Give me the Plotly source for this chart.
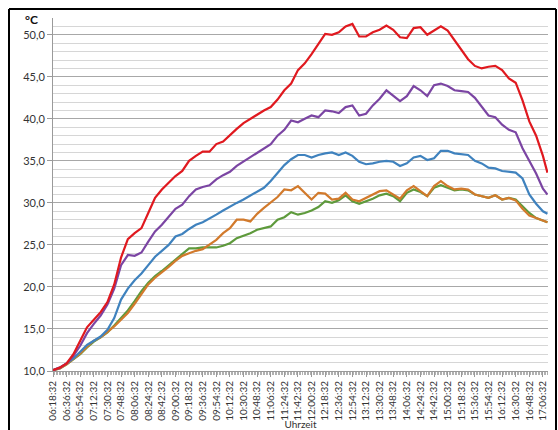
import plotly.graph_objects as go

times = ["06:18:32", "06:27:32", "06:36:32", "06:45:32", "06:54:32", "07:03:32", "07:12:32", "07:21:32",
         "07:30:32", "07:39:32", "07:48:32", "07:57:32", "08:06:32", "08:15:32", "08:24:32", "08:33:32",
         "08:42:32", "08:51:32", "09:00:32", "09:09:32", "09:18:32", "09:27:32", "09:36:32", "09:45:32",
         "09:54:32", "10:03:32", "10:12:32", "10:21:32", "10:30:32", "10:39:32", "10:48:32", "10:57:32",
         "11:06:32", "11:15:32", "11:24:32", "11:33:32", "11:42:32", "11:51:32", "12:00:32", "12:09:32",
         "12:18:32", "12:27:32", "12:36:32", "12:45:32", "12:54:32", "13:03:32", "13:12:32", "13:21:32",
         "13:30:32", "13:39:32", "13:48:32", "13:57:32", "14:06:32", "14:15:32", "14:24:32", "14:33:32",
         "14:42:32", "14:51:32", "15:00:32", "15:09:32", "15:18:32", "15:27:32", "15:36:32", "15:45:32",
         "15:54:32", "16:03:32", "16:12:32", "16:21:32", "16:30:32", "16:39:32", "16:48:32", "16:57:32",
         "17:06:32", "17:12:32"]

red = [10.1, 10.4, 10.9, 12.0, 13.6, 15.2, 16.1, 17.0, 18.2, 20.3, 23.5, 25.7, 26.4, 27.0, 28.8, 30.6,
       31.6, 32.4, 33.2, 33.8, 35.0, 35.6, 36.1, 36.1, 37.0, 37.3, 38.1, 38.8, 39.5, 40.0, 40.6, 41.0,
       41.4, 42.3, 43.4, 44.2, 45.8, 46.6, 47.7, 48.9, 50.1, 50.0, 50.3, 51.0, 51.3, 49.8, 49.8, 50.3,
       50.6, 51.1, 50.6, 49.7, 49.6, 50.8, 50.9, 50.0, 50.5, 51.0, 50.5, 49.4, 48.2, 47.1, 46.3, 46.0,
       46.2, 46.3, 45.8, 44.8, 44.3, 42.2, 39.7, 38.0, 35.6, 33.6]

purple = [10.1, 10.4, 10.9, 11.8, 13.0, 14.5, 15.6, 16.6, 17.9, 19.8, 22.6, 23.8, 23.7, 24.1, 25.4, 26.6,
          27.4, 28.4, 29.3, 29.8, 30.8, 31.6, 31.9, 32.1, 32.8, 33.3, 33.7, 34.4, 34.9, 35.4, 36.0, 36.5,
          37.0, 38.0, 38.7, 39.8, 39.6, 40.0, 40.4, 40.2, 41.0, 40.9, 40.7, 41.4, 41.6, 40.4, 40.6, 41.6,
          42.4, 43.4, 42.8, 42.1, 42.7, 43.9, 43.4, 42.7, 44.0, 44.2, 43.9, 43.4, 43.3, 43.2, 42.5, 41.5,
          40.4, 40.2, 39.3, 38.7, 38.4, 36.5, 35.0, 33.5, 31.7, 31.0]

blue = [10.1, 10.4, 10.9, 11.5, 12.3, 13.1, 13.6, 14.1, 14.9, 16.3, 18.5, 19.8, 20.8, 21.6, 22.6, 23.6,
        24.3, 25.0, 26.0, 26.3, 26.9, 27.4, 27.7, 28.1, 28.6, 29.1, 29.6, 30.0, 30.4, 30.9, 31.3, 31.8,
        32.6, 33.5, 34.5, 35.2, 35.7, 35.7, 35.4, 35.7, 35.9, 36.0, 35.7, 36.0, 35.6, 34.9, 34.6, 34.7,
        34.9, 35.0, 34.9, 34.4, 34.7, 35.4, 35.6, 35.1, 35.3, 36.2, 36.2, 35.9, 35.8, 35.7, 35.0, 34.7,
        34.2, 34.1, 33.8, 33.7, 33.6, 32.9, 31.0, 29.9, 29.0, 28.7]

green = [10.1, 10.3, 10.8, 11.4, 12.0, 12.8, 13.5, 14.0, 14.6, 15.4, 16.3, 17.2, 18.3, 19.5, 20.5, 21.3,
         21.9, 22.6, 23.3, 24.0, 24.6, 24.6, 24.7, 24.7, 24.7, 24.9, 25.2, 25.8, 26.1, 26.4, 26.8, 27.0,
         27.2, 28.0, 28.3, 28.9, 28.6, 28.8, 29.1, 29.5, 30.2, 30.0, 30.3, 30.9, 30.2, 29.9, 30.2, 30.5,
         30.9, 31.1, 30.8, 30.2, 31.2, 31.6, 31.3, 30.8, 31.8, 32.1, 31.8, 31.5, 31.6, 31.5, 31.0, 30.8,
         30.6, 30.9, 30.4, 30.6, 30.4, 29.6, 28.8, 28.2, 27.9, 27.7]

orange = [10.1, 10.3, 10.8, 11.4, 12.1, 12.9, 13.6, 14.0, 14.6, 15.3, 16.1, 16.9, 18.0, 19.2, 20.3, 21.1,
          21.7, 22.4, 23.1, 23.7, 24.0, 24.3, 24.5, 25.1, 25.6, 26.4, 27.0, 28.0, 28.0, 27.8, 28.7, 29.4,
          30.1, 30.7, 31.6, 31.5, 32.0, 31.2, 30.4, 31.2, 31.1, 30.4, 30.5, 31.2, 30.4, 30.2, 30.6, 31.0,
          31.4, 31.5, 31.0, 30.5, 31.5, 32.0, 31.4, 30.8, 32.0, 32.6, 32.0, 31.6, 31.7, 31.6, 31.0, 30.8,
          30.6, 30.9, 30.4, 30.6, 30.3, 29.3, 28.5, 28.2, 27.9, 27.7]

y_ticks = [10, 15, 20, 25, 30, 35, 40, 45, 50]

DAY = "2000-01-01 "
x = [DAY + t for t in times]

series = [
    ("green", green, "#5E9A3C"),
    ("orange", orange, "#D27A2C"),
    ("blue", blue, "#3F82BE"),
    ("purple", purple, "#7B45A3"),
    ("red", red, "#E0191F"),
]

fig = go.Figure()
for name, vals, col in series:
    fig.add_trace(go.Scatter(x=x, y=vals, mode="lines", name=name,
                             line=dict(color=col, width=2.2), showlegend=False))

L, R, T, B = 53, 10, 18, 59
W, H = 558, 430
pw, ph = W - L - R, H - T - B


def px(v):
    return (v - L) / pw


def py(v):
    return (H - B - v) / ph


border = dict(color="black", width=2)
shapes = [
    dict(type="line", xref="paper", yref="paper", x0=px(9), x1=px(556), y0=py(9), y1=py(9), line=border),
    dict(type="line", xref="paper", yref="paper", x0=px(9), x1=px(9), y0=py(9), y1=py(440), line=border),
    dict(type="line", xref="paper", yref="paper", x0=px(556), x1=px(556), y0=py(9), y1=py(440), line=border),
]

fig.update_layout(
    width=W, height=H,
    margin=dict(l=L, r=R, t=T, b=B, autoexpand=False),
    paper_bgcolor="white", plot_bgcolor="white",
    separators=",.",
    font=dict(family="Lato, Liberation Sans, sans-serif", color="#222222"),
    xaxis=dict(
        type="date",
        range=[DAY + "06:18:32", DAY + "17:13:15"],
        tick0=DAY + "06:18:32", dtick=18 * 60 * 1000,
        tickformat="%H:%M:%S", tickangle=-90,
        tickfont=dict(size=10, color="#333333"),
        showgrid=False, zeroline=False,
        showline=True, linecolor="#9A9A9A", linewidth=1,
        ticks="outside", ticklen=5, tickcolor="#9A9A9A",
        minor=dict(dtick=2 * 60 * 1000, tick0=DAY + "06:18:32", ticks="outside",
                   ticklen=3, tickcolor="#B0B0B0", showgrid=False),
        title=dict(text="Uhrzeit", font=dict(size=10, color="#333333"), standoff=2),
    ),
    yaxis=dict(
        range=[10, 52],
        tickvals=y_ticks, tickformat=".1f",
        tickfont=dict(size=11, color="#333333"),
        showgrid=True, gridcolor="#A8A8A8", gridwidth=1,
        minor=dict(dtick=1, showgrid=True, gridcolor="#D6D6D6", gridwidth=1),
        zeroline=False,
        showline=True, linecolor="#9A9A9A", linewidth=1,
        ticks="outside", ticklen=5, tickcolor="#9A9A9A",
    ),
    annotations=[dict(text="<b>°C</b>", xref="paper", yref="paper",
                      x=px(31), y=py(19), xanchor="center", yanchor="middle",
                      showarrow=False, font=dict(size=12, color="#111111"))],
    shapes=shapes,
)

fig.write_html("out.html", config={"displayModeBar": False},
               post_script="document.body.style.margin='0px';document.body.style.overflow='hidden';")
